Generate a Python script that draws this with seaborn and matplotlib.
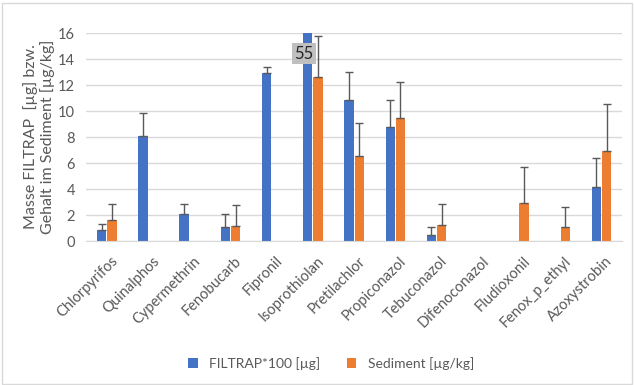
import numpy as np
import pandas as pd
import matplotlib.pyplot as plt
import matplotlib.transforms as mtrans
import seaborn as sns

substances = ['Chlorpyrifos', 'Quinalphos', 'Cypermethrin', 'Fenobucarb', 'Fipronil',
              'Isoprothiolan', 'Pretilachlor', 'Propiconazol', 'Tebuconazol',
              'Difenoconazol', 'Fludioxonil', 'Fenox_p_ethyl', 'Azoxystrobin']
filtrap = [0.85, 8.1, 2.1, 1.05, 12.95, 55, 10.85, 8.77, 0.5, 0, 0, 0, 4.15]
filtrap_err = [0.45, 1.75, 0.75, 1.0, 0.45, np.nan, 2.15, 2.1, 0.58, np.nan, np.nan, np.nan, 2.2]
sediment = [1.65, 0, 0, 1.15, 0, 12.65, 6.55, 9.46, 1.2, 0, 2.95, 1.1, 6.92]
sediment_err = [1.2, np.nan, np.nan, 1.6, np.nan, 3.1, 2.5, 2.75, 1.62, np.nan, 2.72, 1.5, 3.64]
series = ['FILTRAP*100 [µg]', 'Sediment [µg/kg]']

df = pd.DataFrame({
    'substance': substances * 2,
    'value': filtrap + sediment,
    'series': [series[0]] * len(substances) + [series[1]] * len(substances),
})

sns.set_style('white')
plt.rcParams['font.family'] = ['Lato', 'DejaVu Sans']
grey = '#595959'

fig, ax = plt.subplots(figsize=(6.34, 3.85), dpi=100)
sns.barplot(data=df, x='substance', y='value', hue='series',
            palette=['#4472C4', '#ED7D31'], saturation=1, width=0.5, gap=0.1,
            linewidth=0, ax=ax, errorbar=None)

for cont, vals, errs in zip(ax.containers, [filtrap, sediment], [filtrap_err, sediment_err]):
    for bar, v, e in zip(cont, vals, errs):
        if np.isnan(e):
            continue
        x = bar.get_x() + bar.get_width() / 2
        ax.errorbar(x, v, yerr=[[0], [e]], fmt='none', ecolor='#595959',
                    elinewidth=1, capsize=3, capthick=1)

# data label for clipped bar
bar = ax.containers[0][substances.index('Isoprothiolan')]
ax.text(bar.get_x() + bar.get_width() * 0.1, 14.4, '55', ha='center', va='center',
        fontsize=12, color='#262626',
        bbox=dict(boxstyle='square,pad=0.15', fc='#BFBFBF', ec='none'))

ax.set_xlim(-0.5, len(substances) - 0.5)
ax.set_ylim(0, 16)
ax.set_yticks(range(0, 17, 2))
ax.yaxis.grid(True, color='#D9D9D9', linewidth=1)
ax.set_axisbelow(True)
for s in ['top', 'right', 'left']:
    ax.spines[s].set_visible(False)
ax.spines['bottom'].set_color('#D9D9D9')
ax.tick_params(axis='both', colors=grey, labelsize=10.5, length=0)
ax.tick_params(axis='y', pad=8)
shift = mtrans.ScaledTranslation(0.04, -0.08, fig.dpi_scale_trans)
for lab in ax.get_xticklabels():
    lab.set_rotation(45)
    lab.set_ha('right')
    lab.set_rotation_mode('anchor')
    lab.set_transform(lab.get_transform() + shift)
ax.set_xlabel('')
ax.set_ylabel('Masse FILTRAP  [µg] bzw.\nGehalt im Sediment [µg/kg]', color=grey, fontsize=11.5,
              labelpad=2)

ax.legend(loc='center', bbox_to_anchor=(0.457, -0.587), ncol=2, frameon=False,
          fontsize=10, labelcolor=grey, handlelength=0.7, handleheight=0.7,
          columnspacing=1.9)

fig.subplots_adjust(left=0.136, right=0.981, top=0.914, bottom=0.374)
fig.patches.append(plt.Rectangle((0.003, 0.003), 0.994, 0.99, transform=fig.transFigure,
                                 fill=False, ec='#D9D9D9', lw=1))
fig.savefig('out.png', dpi=100)
